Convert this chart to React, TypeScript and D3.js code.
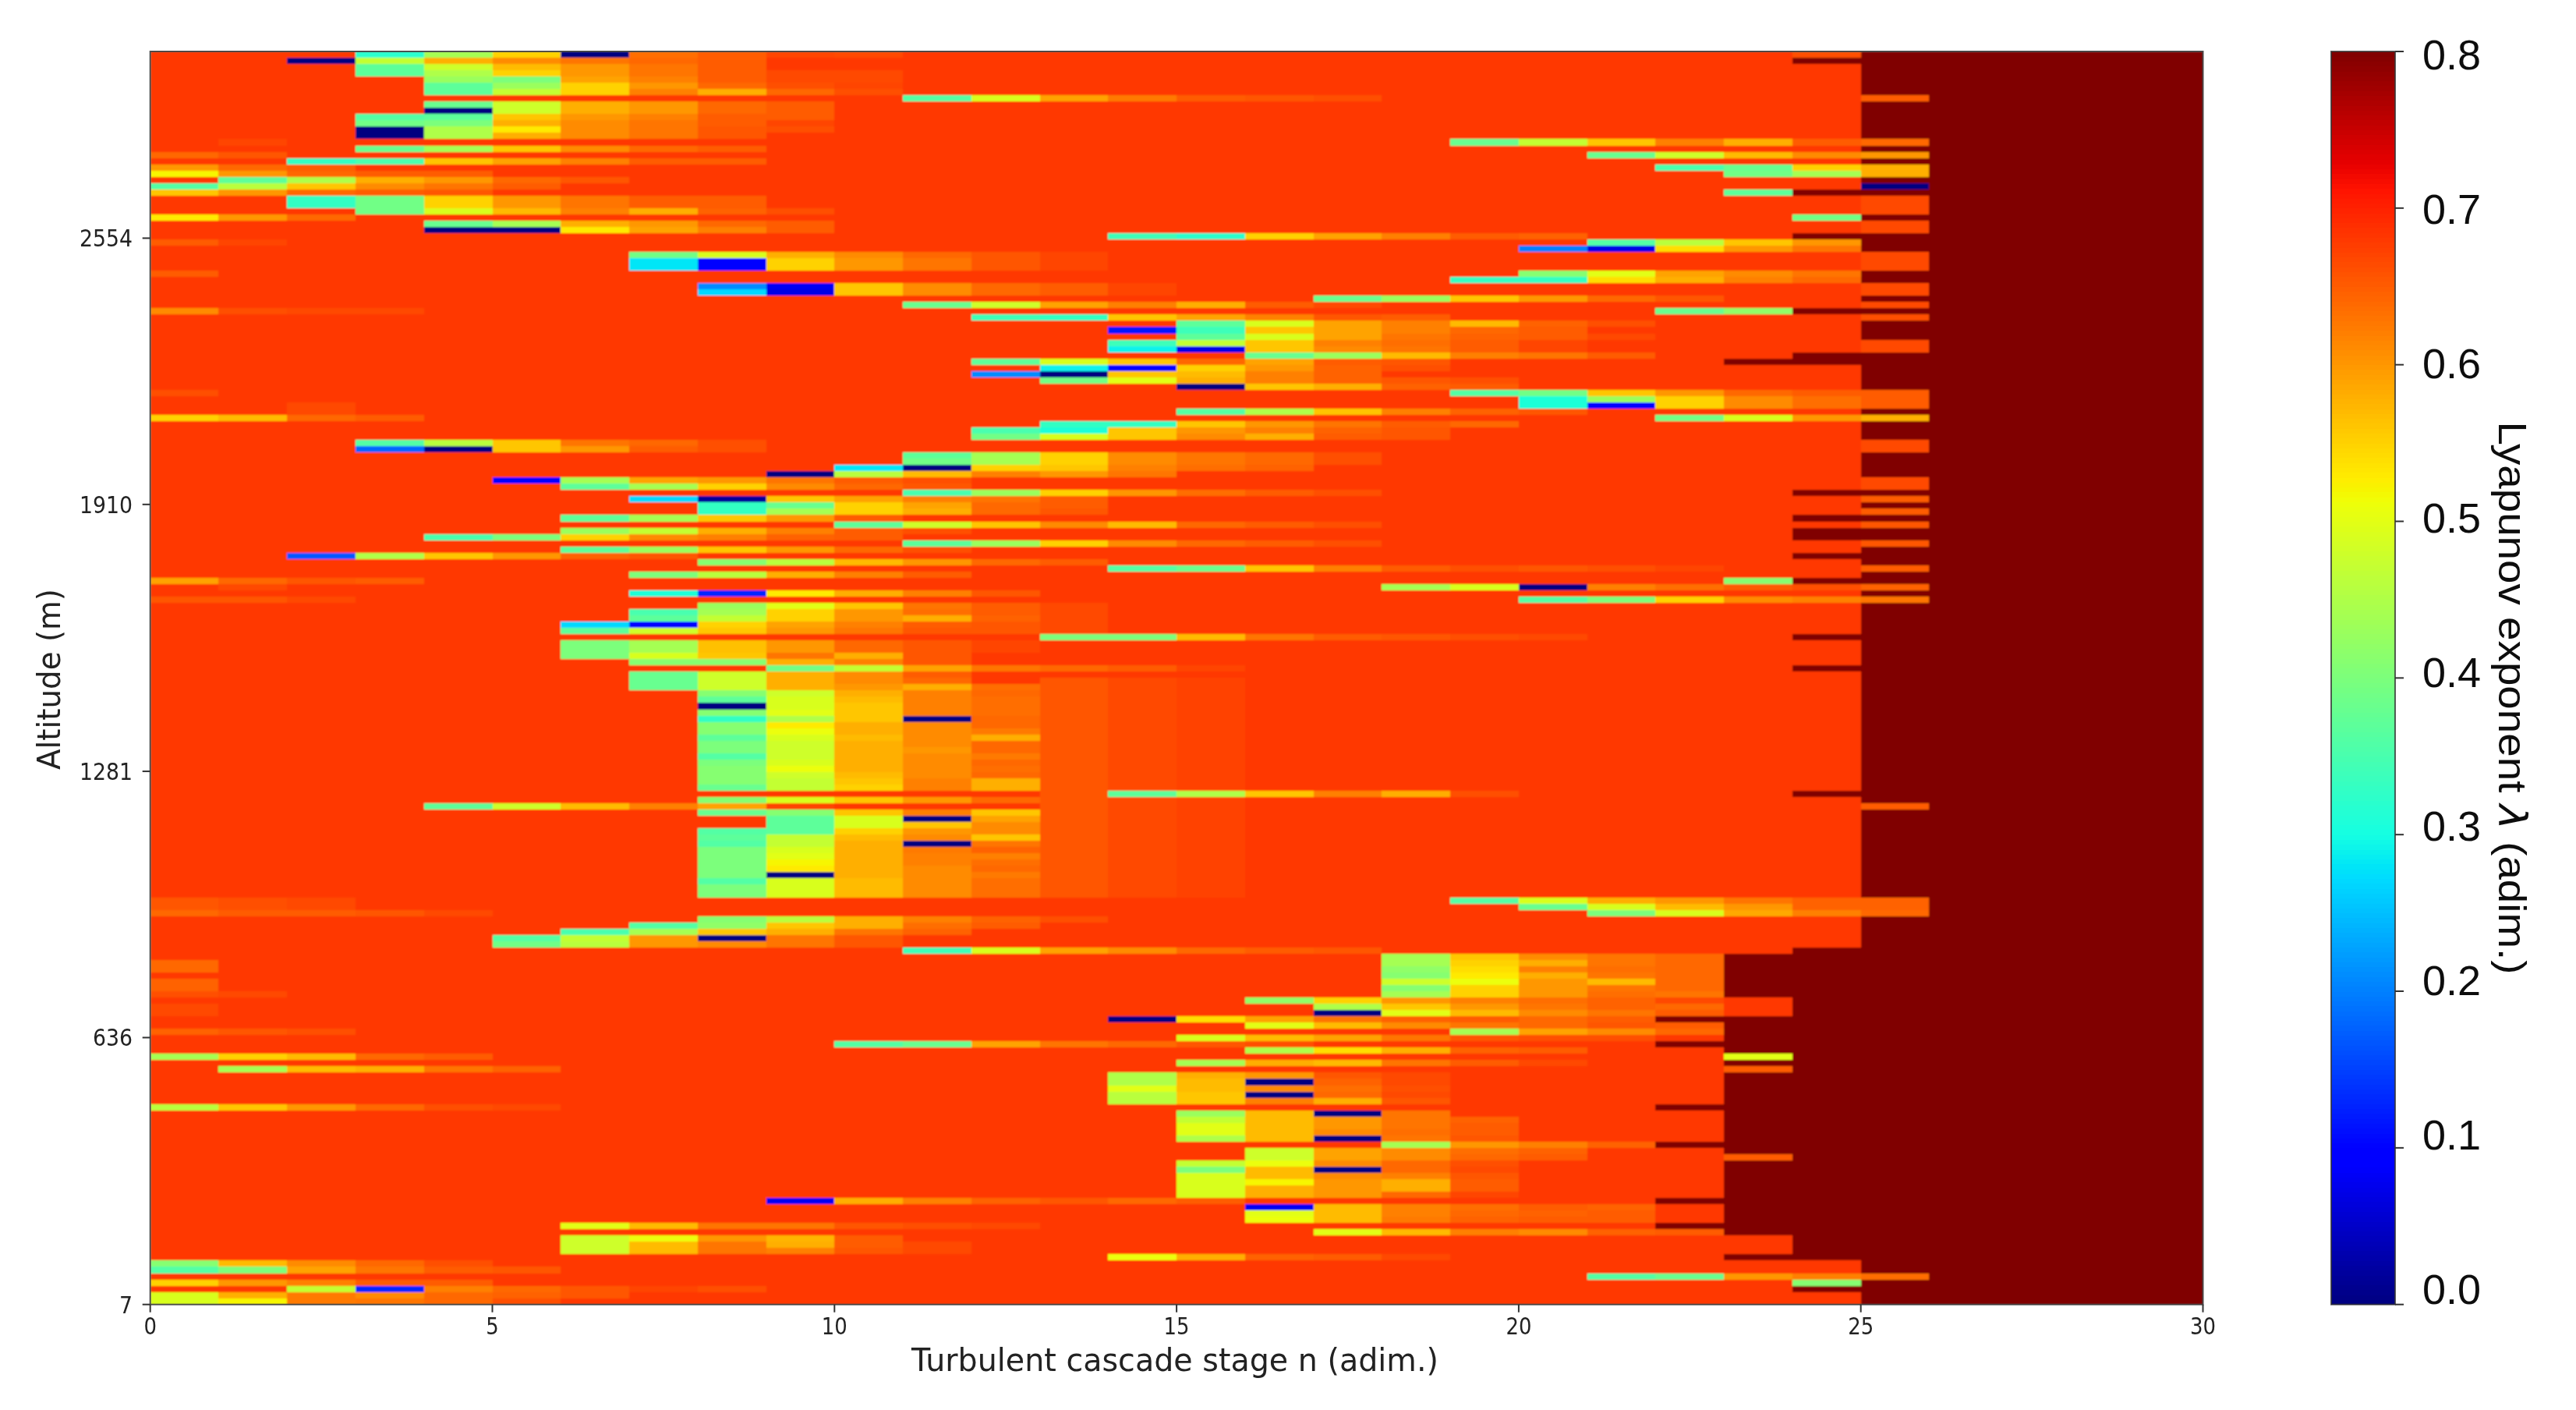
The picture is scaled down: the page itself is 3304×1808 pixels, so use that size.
import React from "react";
import * as d3 from "d3";

// Grid: 200 altitude rows (row 0 = top of the plot) by 30 cascade stages.
const ROW_COUNT = 200;
const STAGE_COUNT = 30;
const BACKGROUND_VALUE = 0.68;
const SATURATED_VALUE = 0.8;

const stageTicks = [0, 5, 10, 15, 20, 25, 30];
const altitudeTickLabels = ["7", "636", "1281", "1910", "2554"];
const altitudeTickRows = [0, 42.6, 85.1, 127.7, 170.2]; // rows above ground
const lambdaTicks = [0, 0.1, 0.2, 0.3, 0.4, 0.5, 0.6, 0.7, 0.8];

// [firstRow, lastRow, firstSaturatedStage]
const saturationRuns = [
  [0, 134, 25], [135, 137, 26], [138, 142, 25], [143, 143, 24], [144, 150, 23],
  [151, 153, 24], [154, 188, 23], [189, 191, 24], [192, 192, 23], [193, 194, 25],
  [195, 195, 26], [196, 199, 25],
];

// Each band: [row, rowSpan, firstStage, ...lambda values]
const fadeBands = [
  [100, 35, 13, 0.655, 0.665, 0.672],
  [88, 5, 12, 0.655, 0.665],
];

const upperLeftBands = [
  [0, 1, 3, 0.32, 0.44, 0.55, 0, 0.635, 0.65, 0.67, 0.665],
  [1, 1, 2, 0, 0.47, 0.58, 0.61, 0.63, 0.64, 0.65],
  [2, 1, 3, 0.37, 0.48, 0.57, 0.6, 0.63, 0.65],
  [3, 1, 3, 0.37, 0.45, 0.55, 0.6, 0.63, 0.65, 0.665, 0.665],
  [4, 1, 4, 0.43, 0.4, 0.59, 0.62, 0.65, 0.665, 0.665],
  [5, 1, 4, 0.37, 0.43, 0.55, 0.6, 0.64, 0.66, 0.67],
  [6, 1, 4, 0.37, 0.47, 0.55, 0.62, 0.58, 0.64, 0.66],
  [8, 1, 4, 0.38, 0.48, 0.58, 0.6, 0.64, 0.65],
  [9, 1, 4, 0, 0.48, 0.58, 0.6, 0.64, 0.65],
  [10, 1, 3, 0.36, 0.37, 0.56, 0.6, 0.62, 0.65, 0.65],
  [11, 1, 3, 0.39, 0.4, 0.58, 0.61, 0.63, 0.65, 0.67],
  [12, 1, 3, 0, 0.45, 0.53, 0.61, 0.63, 0.655, 0.66],
  [13, 1, 3, 0, 0.45, 0.58, 0.61, 0.63, 0.655],
  [14, 1, 1, 0.67],
  [15, 1, 3, 0.38, 0.44, 0.56, 0.61, 0.64, 0.65],
  [16, 1, 0, 0.64, 0.655],
  [17, 1, 2, 0.33, 0.35, 0.56, 0.59, 0.62, 0.65, 0.65],
  [18, 1, 0, 0.6, 0.64, 0.65],
  [19, 1, 0, 0.52, 0.6, 0.64, 0.65, 0.65],
  [20, 1, 1, 0.37, 0.45, 0.58, 0.6, 0.64, 0.655],
  [21, 1, 0, 0.36, 0.46, 0.56, 0.61, 0.63, 0.65],
  [22, 1, 0, 0.56, 0.6, 0.64, 0.65, 0.655],
  [23, 2, 2, 0.33, 0.39, 0.55, 0.6, 0.63, 0.65, 0.65],
  [25, 1, 3, 0.39, 0.49, 0.57, 0.62, 0.58, 0.645, 0.66],
  [26, 1, 0, 0.53, 0.6, 0.64],
  [27, 1, 4, 0.38, 0.44, 0.58, 0.6, 0.64, 0.65],
  [28, 1, 4, 0, 0, 0.53, 0.59, 0.62, 0.65],
  [30, 1, 0, 0.65, 0.67],
  [32, 1, 7, 0.39, 0.49, 0.58, 0.61, 0.64],
  [33, 2, 7, 0.28, 0.09, 0.55, 0.6, 0.63],
  [35, 1, 0, 0.65],
  [37, 1, 8, 0.21, 0.08, 0.56, 0.61],
  [38, 1, 8, 0.27, 0.07, 0.56, 0.61],
  [41, 1, 0, 0.61, 0.66, 0.665, 0.665],
  [54, 1, 0, 0.66],
  [56, 2, 2, 0.665],
  [58, 1, 0, 0.55, 0.57, 0.64, 0.65],
  [62, 1, 3, 0.36, 0.46, 0.56, 0.63, 0.64, 0.66],
  [63, 1, 3, 0.18, 0, 0.56, 0.6, 0.65, 0.66],
];

const upperRightBands = [
  [0, 1, 24, 0.66],
  [1, 1, 24, 0.8],
  [7, 1, 11, 0.36, 0.49, 0.59, 0.625, 0.65, 0.655, 0.66],
  [7, 1, 25, 0.65],
  [14, 1, 19, 0.38, 0.47, 0.56, 0.62, 0.58, 0.65, 0.64],
  [16, 1, 21, 0.38, 0.48, 0.57, 0.61, 0.6],
  [18, 1, 22, 0.35, 0.38, 0.55, 0.58],
  [19, 1, 23, 0.39, 0.44, 0.58],
  [21, 1, 25, 0],
  [22, 1, 23, 0.37, 0.8, 0.8],
  [23, 3, 25, 0.665],
  [26, 1, 24, 0.39, 0.8],
  [27, 2, 25, 0.665],
  [29, 1, 14, 0.34, 0.32, 0.55, 0.59, 0.62, 0.65, 0.645],
  [29, 1, 24, 0.8, 0.8],
  [30, 1, 21, 0.36, 0.46, 0.56, 0.6],
  [31, 1, 20, 0.2, 0.07, 0.54, 0.6, 0.63],
  [32, 3, 12, 0.655, 0.67],
  [32, 3, 25, 0.665],
  [35, 1, 20, 0.41, 0.5, 0.59, 0.61, 0.63],
  [36, 1, 19, 0.33, 0.33, 0.54, 0.58, 0.62, 0.64],
  [37, 2, 10, 0.56, 0.61, 0.64, 0.65, 0.67],
  [37, 2, 25, 0.665],
  [39, 1, 17, 0.38, 0.43, 0.56, 0.6, 0.64, 0.655],
  [40, 1, 11, 0.38, 0.48, 0.59, 0.62, 0.58, 0.65, 0.665],
  [40, 1, 25, 0.665],
  [41, 1, 22, 0.38, 0.42, 0.8, 0.8],
  [42, 1, 12, 0.34, 0.33, 0.56, 0.59, 0.62, 0.655, 0.65],
  [42, 1, 25, 0.66],
  [43, 1, 15, 0.37, 0.49, 0.59, 0.62, 0.57, 0.645, 0.66],
  [44, 1, 14, 0.12, 0.34, 0.56, 0.59, 0.62, 0.64, 0.65],
  [45, 1, 15, 0.37, 0.49, 0.59, 0.63, 0.645, 0.65, 0.665],
  [46, 1, 14, 0.34, 0.47, 0.56, 0.62, 0.635, 0.65, 0.67],
  [46, 2, 25, 0.665],
  [47, 1, 14, 0.29, 0.07, 0.56, 0.61, 0.63, 0.65, 0.67],
  [48, 1, 16, 0.38, 0.43, 0.57, 0.62, 0.63, 0.65],
  [48, 1, 24, 0.8],
  [49, 1, 12, 0.37, 0.49, 0.56, 0.64, 0.59, 0.65, 0.655],
  [49, 1, 23, 0.8, 0.8],
  [50, 1, 13, 0.29, 0.1, 0.55, 0.6, 0.645, 0.66],
  [51, 1, 12, 0.21, 0, 0.56, 0.57, 0.62, 0.645],
  [52, 1, 13, 0.39, 0.5, 0.58, 0.62, 0.645, 0.655, 0.66],
  [53, 1, 15, 0, 0.56, 0.58, 0.645, 0.65],
  [54, 1, 19, 0.36, 0.39, 0.56, 0.6, 0.64, 0.65, 0.65],
  [55, 1, 20, 0.31, 0.43, 0.55, 0.61, 0.635, 0.65],
  [56, 1, 20, 0.31, 0.1, 0.55, 0.61, 0.635, 0.65],
  [57, 1, 15, 0.36, 0.45, 0.56, 0.62, 0.645, 0.655],
  [58, 1, 22, 0.39, 0.49, 0.6, 0.58],
  [59, 1, 13, 0.33, 0.33, 0.56, 0.6, 0.63, 0.65, 0.64],
  [60, 1, 12, 0.35, 0.31, 0.56, 0.6, 0.62, 0.645, 0.655],
  [61, 1, 12, 0.39, 0.49, 0.56, 0.61, 0.58, 0.65, 0.655],
  [62, 2, 25, 0.665],
  [64, 1, 11, 0.37, 0.44, 0.55, 0.61, 0.63, 0.64, 0.66],
  [65, 1, 11, 0.39, 0.44, 0.55, 0.61, 0.63, 0.64, 0.66],
  [66, 1, 10, 0.28, 0, 0.55, 0.56, 0.62, 0.635, 0.645],
];

const middleBands = [
  [67, 1, 9, 0, 0.46, 0.57, 0.62, 0.64, 0.65],
  [68, 1, 5, 0.09, 0.44, 0.59, 0.6, 0.63, 0.65, 0.66],
  [69, 1, 6, 0.37, 0.44, 0.55, 0.61, 0.64, 0.655],
  [70, 1, 11, 0.35, 0.43, 0.55, 0.6, 0.635, 0.65, 0.66],
  [71, 1, 7, 0.27, 0.02, 0.56, 0.59, 0.62, 0.63, 0.65],
  [72, 1, 8, 0.33, 0.38, 0.55, 0.59, 0.64, 0.65],
  [73, 1, 8, 0.33, 0.44, 0.55, 0.58, 0.64, 0.655],
  [74, 1, 6, 0.37, 0.44, 0.56, 0.6, 0.65],
  [75, 1, 10, 0.37, 0.48, 0.56, 0.61, 0.57, 0.64, 0.65, 0.66],
  [76, 1, 6, 0.43, 0.47, 0.58, 0.62, 0.65, 0.66],
  [77, 1, 4, 0.35, 0.4, 0.55, 0.61, 0.62, 0.645, 0.65],
  [78, 1, 11, 0.37, 0.43, 0.55, 0.61, 0.64, 0.65, 0.66],
  [79, 1, 6, 0.37, 0.43, 0.56, 0.6, 0.64, 0.66],
  [80, 1, 2, 0.17, 0.45, 0.56, 0.6, 0.645, 0.655],
  [81, 1, 8, 0.41, 0.46, 0.57, 0.6, 0.64, 0.65],
  [83, 1, 7, 0.4, 0.46, 0.58, 0.62, 0.65],
  [84, 1, 0, 0.59, 0.64, 0.655, 0.65],
  [85, 1, 1, 0.665],
  [86, 1, 7, 0.31, 0.13, 0.53, 0.58, 0.62, 0.655],
  [87, 1, 0, 0.655, 0.655, 0.665],
  [88, 1, 8, 0.43, 0.5, 0.56, 0.63, 0.65],
  [89, 1, 7, 0.35, 0.44, 0.55, 0.6, 0.635, 0.65],
  [90, 1, 7, 0.37, 0.47, 0.55, 0.6, 0.58, 0.645],
  [91, 1, 6, 0.27, 0.1, 0.55, 0.59, 0.62, 0.65, 0.655],
  [92, 1, 6, 0.37, 0.48, 0.56, 0.6, 0.63, 0.655],
  [93, 1, 13, 0.4, 0.4, 0.57, 0.63, 0.65, 0.655, 0.66, 0.665],
  [94, 2, 6, 0.4, 0.44, 0.565, 0.6, 0.64, 0.655, 0.67],
  [96, 1, 6, 0.4, 0.49, 0.56, 0.63, 0.58, 0.655],
  [97, 1, 7, 0.41, 0.41, 0.58, 0.62, 0.655],
  [98, 1, 9, 0.39, 0.47, 0.59, 0.63, 0.64, 0.65, 0.67],
  [99, 1, 7, 0.38, 0.48, 0.58, 0.61, 0.65],
  [100, 1, 7, 0.38, 0.48, 0.58, 0.61, 0.64],
  [101, 1, 7, 0.38, 0.48, 0.58, 0.6, 0.58, 0.635],
  [102, 1, 8, 0.41, 0.48, 0.58, 0.62, 0.64],
  [103, 1, 8, 0.37, 0.49, 0.57, 0.62, 0.635],
  [104, 1, 8, 0, 0.49, 0.56, 0.62, 0.635],
  [105, 1, 8, 0.41, 0.5, 0.56, 0.62, 0.635],
  [106, 1, 8, 0.33, 0.45, 0.56, 0, 0.64],
  [107, 1, 8, 0.41, 0.53, 0.58, 0.61, 0.64],
  [108, 1, 8, 0.41, 0.51, 0.58, 0.61, 0.625],
  [109, 1, 8, 0.37, 0.49, 0.57, 0.61, 0.58],
  [110, 1, 8, 0.4, 0.48, 0.58, 0.61, 0.64],
  [111, 1, 8, 0.4, 0.48, 0.58, 0.6, 0.64],
  [112, 1, 8, 0.36, 0.48, 0.58, 0.61, 0.625],
  [113, 1, 8, 0.4, 0.49, 0.58, 0.61, 0.64],
  [114, 1, 8, 0.41, 0.51, 0.58, 0.61, 0.635],
  [115, 1, 8, 0.41, 0.48, 0.57, 0.61, 0.64],
  [116, 1, 8, 0.41, 0.47, 0.56, 0.62, 0.58],
  [117, 1, 8, 0.38, 0.47, 0.55, 0.62, 0.58],
  [118, 1, 14, 0.37, 0.45, 0.56, 0.62, 0.58, 0.66],
  [118, 1, 24, 0.8],
  [119, 1, 8, 0.41, 0.49, 0.56, 0.6, 0.64],
  [120, 1, 4, 0.37, 0.48, 0.57, 0.62, 0.59, 0.67],
  [121, 1, 8, 0.38, 0.41, 0.56, 0.62, 0.56],
  [122, 1, 9, 0.37, 0.49, 0, 0.59],
  [123, 1, 9, 0.37, 0.49, 0.56, 0.61],
  [124, 1, 8, 0.36, 0.37, 0.55, 0.6, 0.61],
  [125, 1, 8, 0.37, 0.47, 0.57, 0.61, 0.56],
  [126, 1, 8, 0.36, 0.47, 0.58, 0, 0.63],
  [127, 1, 8, 0.4, 0.49, 0.58, 0.625, 0.645],
  [128, 1, 8, 0.4, 0.5, 0.58, 0.62, 0.62],
  [129, 1, 8, 0.4, 0.52, 0.58, 0.62, 0.635],
  [130, 1, 8, 0.4, 0.53, 0.58, 0.61, 0.64],
  [131, 1, 8, 0.4, 0, 0.58, 0.61, 0.625],
  [132, 1, 8, 0.36, 0.49, 0.57, 0.61, 0.635],
  [133, 2, 8, 0.4, 0.49, 0.57, 0.61, 0.635],
];

const rightEdgeBands = [
  [67, 1, 13, 0.6, 0.63],
  [68, 2, 25, 0.665],
  [70, 1, 24, 0.8],
  [71, 1, 25, 0.65],
  [73, 1, 25, 0.65],
  [74, 1, 24, 0.8],
  [75, 1, 25, 0.655],
  [76, 2, 24, 0.8],
  [78, 1, 25, 0.655],
  [80, 1, 24, 0.8],
  [82, 1, 14, 0.36, 0.38, 0.56, 0.62, 0.65, 0.66, 0.655, 0.66, 0.67],
  [82, 1, 25, 0.65],
  [84, 1, 23, 0.41, 0.8],
  [85, 1, 18, 0.44, 0.49, 0, 0.62, 0.635, 0.65, 0.66, 0.645],
  [87, 1, 20, 0.36, 0.4, 0.55, 0.61, 0.62, 0.63],
  [93, 1, 24, 0.8],
  [98, 1, 24, 0.8],
  [120, 1, 25, 0.65],
];

const lowerLeftBands = [
  [135, 2, 0, 0.655, 0.66, 0.665],
  [137, 1, 0, 0.64, 0.65, 0.65, 0.655, 0.665],
  [138, 1, 8, 0.41, 0.46, 0.58, 0.62, 0.645, 0.66],
  [139, 1, 7, 0.36, 0.42, 0.56, 0.58, 0.635, 0.65],
  [140, 1, 6, 0.35, 0.44, 0.56, 0.58, 0.63, 0.645],
  [141, 1, 5, 0.36, 0.47, 0.6, 0, 0.63, 0.655],
  [142, 1, 5, 0.39, 0.46, 0.6, 0.61, 0.63, 0.655],
  [143, 1, 11, 0.34, 0.49, 0.59, 0.61, 0.64, 0.65, 0.655],
  [145, 2, 0, 0.64],
  [148, 2, 0, 0.645],
  [150, 1, 0, 0.66, 0.665],
  [152, 2, 0, 0.665],
  [156, 1, 0, 0.645, 0.655, 0.66],
  [158, 1, 10, 0.36, 0.38, 0.59, 0.63, 0.64, 0.655, 0.66],
  [160, 1, 0, 0.44, 0.55, 0.57, 0.64, 0.65],
  [162, 1, 1, 0.44, 0.57, 0.58, 0.63, 0.645],
  [168, 1, 0, 0.46, 0.56, 0.6, 0.64, 0.66, 0.665],
  [183, 1, 9, 0.08, 0.58, 0.62, 0.645, 0.655, 0.64, 0.65],
  [187, 1, 6, 0.5, 0.57, 0.63, 0.63, 0.655, 0.66, 0.665],
  [189, 1, 6, 0.48, 0.51, 0.6, 0.575, 0.65],
  [190, 1, 6, 0.48, 0.57, 0.63, 0.58, 0.65, 0.665],
  [191, 1, 6, 0.48, 0.57, 0.63, 0.62, 0.655, 0.665],
  [193, 1, 0, 0.41, 0.57, 0.61, 0.64, 0.66],
  [194, 1, 0, 0.36, 0.4, 0.59, 0.63, 0.65, 0.655],
  [196, 1, 0, 0.55, 0.6, 0.62, 0.65, 0.65],
  [197, 1, 2, 0.47, 0.13, 0.62, 0.64, 0.655, 0.67, 0.66],
  [198, 1, 0, 0.49, 0.58, 0.625, 0.61, 0.64, 0.645, 0.655],
  [199, 1, 0, 0.49, 0.52, 0.625, 0.63, 0.64, 0.66],
];

const lowerRightBands = [
  [135, 1, 19, 0.36, 0.49, 0.58, 0.6, 0.63, 0.645, 0.645],
  [136, 1, 20, 0.38, 0.49, 0.57, 0.6, 0.645, 0.645],
  [137, 1, 21, 0.4, 0.49, 0.585, 0.62, 0.64],
  [144, 1, 18, 0.44, 0.56, 0.61, 0.63, 0.64],
  [145, 1, 18, 0.44, 0.55, 0.58, 0.63, 0.64],
  [146, 1, 18, 0.42, 0.54, 0.62, 0.635, 0.64],
  [147, 1, 18, 0.41, 0.53, 0.58, 0.63, 0.64],
  [148, 1, 18, 0.48, 0.51, 0.6, 0.57, 0.64],
  [149, 1, 18, 0.41, 0.55, 0.6, 0.63, 0.64],
  [150, 1, 18, 0.44, 0.55, 0.6, 0.635, 0.63],
  [151, 1, 16, 0.42, 0.55, 0.6, 0.62, 0.635, 0.645, 0.665],
  [152, 1, 17, 0.45, 0.56, 0.6, 0.63, 0.645, 0.64],
  [153, 1, 17, 0, 0.5, 0.57, 0.61, 0.63, 0.65],
  [154, 1, 14, 0, 0.54, 0.59, 0.63, 0.645, 0.65, 0.64, 0.65, 0.8],
  [155, 1, 16, 0.5, 0.57, 0.61, 0.63, 0.64, 0.655, 0.65],
  [156, 1, 19, 0.44, 0.59, 0.61, 0.64],
  [157, 1, 15, 0.49, 0.57, 0.59, 0.63, 0.655, 0.66, 0.66],
  [158, 1, 22, 0.8],
  [159, 1, 16, 0.45, 0.54, 0.58, 0.645, 0.65],
  [160, 1, 23, 0.5],
  [161, 1, 15, 0.44, 0.58, 0.57, 0.63, 0.65, 0.665],
  [162, 1, 23, 0.65],
  [163, 1, 14, 0.45, 0.58, 0.6, 0.655, 0.665],
  [164, 1, 14, 0.45, 0.57, 0, 0.645, 0.665],
  [165, 1, 14, 0.5, 0.57, 0.61, 0.635, 0.66],
  [166, 1, 14, 0.46, 0.56, 0, 0.64, 0.665],
  [167, 1, 14, 0.46, 0.56, 0.62, 0.58, 0.655],
  [168, 1, 22, 0.8],
  [169, 1, 15, 0.43, 0.57, 0, 0.63],
  [170, 1, 15, 0.47, 0.57, 0.6, 0.63, 0.645],
  [171, 1, 15, 0.5, 0.57, 0.6, 0.63, 0.65],
  [172, 1, 15, 0.5, 0.57, 0.61, 0.635, 0.65],
  [173, 1, 15, 0.45, 0.57, 0, 0.63, 0.655],
  [174, 1, 18, 0.44, 0.6, 0.62, 0.645],
  [174, 1, 22, 0.8],
  [175, 1, 16, 0.48, 0.59, 0.61, 0.635, 0.645],
  [176, 1, 16, 0.48, 0.59, 0.61, 0.64, 0.65],
  [176, 1, 23, 0.65],
  [177, 1, 15, 0.47, 0.51, 0.61, 0.64, 0.66],
  [178, 1, 15, 0.4, 0.57, 0, 0.64, 0.665],
  [179, 1, 15, 0.49, 0.57, 0.61, 0.62, 0.655],
  [180, 1, 15, 0.49, 0.52, 0.6, 0.58, 0.65],
  [181, 1, 15, 0.49, 0.58, 0.6, 0.58, 0.65],
  [182, 1, 15, 0.49, 0.58, 0.6, 0.64, 0.67],
  [183, 1, 22, 0.8],
  [184, 1, 16, 0.08, 0.57, 0.62, 0.635, 0.65, 0.645],
  [185, 1, 16, 0.5, 0.57, 0.62, 0.64, 0.645, 0.65],
  [186, 1, 16, 0.51, 0.57, 0.625, 0.645, 0.65, 0.65],
  [187, 1, 22, 0.8],
  [188, 1, 17, 0.5, 0.57, 0.62, 0.61, 0.645, 0.65],
  [192, 1, 14, 0.51, 0.58, 0.645, 0.65, 0.665],
  [195, 1, 21, 0.36, 0.38, 0.6, 0.62, 0.635],
  [196, 1, 24, 0.41],
  [197, 1, 24, 0.8],
];

const bandGroups = [fadeBands, upperLeftBands, upperRightBands, middleBands, rightEdgeBands, lowerLeftBands, lowerRightBands];

const grid: number[][] = d3.range(ROW_COUNT).map((r) =>
  d3.range(STAGE_COUNT).map((c) => {
    const run = saturationRuns.find((s) => r >= s[0] && r <= s[1]);
    return run && c >= run[2] ? SATURATED_VALUE : BACKGROUND_VALUE;
  })
);
bandGroups.forEach((group) =>
  group.forEach(([row, span, stage, ...values]) => {
    d3.range(span).forEach((k) =>
      values.forEach((v, i) => {
        if (row + k < ROW_COUNT && stage + i < STAGE_COUNT) grid[row + k][stage + i] = v;
      })
    );
  })
);

// matplotlib "jet"
const jetR = d3.scaleLinear<number>().domain([0, 0.35, 0.66, 0.89, 1]).range([0, 0, 1, 1, 0.5]).clamp(true);
const jetG = d3.scaleLinear<number>().domain([0, 0.125, 0.375, 0.64, 0.91, 1]).range([0, 0, 1, 1, 0, 0]).clamp(true);
const jetB = d3.scaleLinear<number>().domain([0, 0.11, 0.34, 0.65, 1]).range([0.5, 1, 1, 0, 0]).clamp(true);
const norm = d3.scaleLinear().domain([0, 0.8]).range([0, 1]);
const lambdaColor = (v: number) => {
  const t = norm(v);
  return `rgb(${Math.round(jetR(t) * 255)},${Math.round(jetG(t) * 255)},${Math.round(jetB(t) * 255)})`;
};

const W = 3304;
const H = 1808;
const plot = { left: 192.7, right: 2825.5, top: 66, bottom: 1672.7 };
const bar = { left: 2990, right: 3072, top: 66, bottom: 1672.7 };

const x = d3.scaleLinear().domain([0, STAGE_COUNT]).range([plot.left, plot.right]);
const yAbove = d3.scaleLinear().domain([0, ROW_COUNT]).range([plot.bottom, plot.top]);
const barY = d3.scaleLinear().domain([0, 0.8]).range([bar.bottom, bar.top]);
const barLabelBaseline = d3.scaleLinear().domain([0, 0.8]).range([1672, 89]);

const AXIS = "#333";
const DEJAVU = "'DejaVu Sans', sans-serif";
const SANS = "'Liberation Sans', Arial, sans-serif";
const barSteps = d3.range(256);

export default function App() {
  return (
    <svg width={W} height={H} viewBox={`0 0 ${W} ${H}`} style={{ position: "absolute", left: 0, top: 0, background: "#fff" }}>
      <defs>
        <filter id="soft" x="-1%" y="-1%" width="102%" height="102%">
          <feGaussianBlur stdDeviation="0.9" />
        </filter>
        <filter id="softText" x="-5%" y="-5%" width="110%" height="110%">
          <feGaussianBlur stdDeviation="0.5" />
        </filter>
        <clipPath id="plotClip">
          <rect x={plot.left} y={plot.top} width={plot.right - plot.left} height={plot.bottom - plot.top} />
        </clipPath>
      </defs>

      <g clipPath="url(#plotClip)">
        <g filter="url(#soft)" shapeRendering="crispEdges">
          {grid.map((row, r) =>
            row.map((v, c) => (
              <rect
                key={`${r}-${c}`}
                x={x(c)}
                y={yAbove(ROW_COUNT - r)}
                width={x(c + 1) - x(c) + 0.5}
                height={yAbove(ROW_COUNT - r - 1) - yAbove(ROW_COUNT - r) + 0.5}
                fill={lambdaColor(v)}
              />
            ))
          )}
        </g>
      </g>
      <rect x={plot.left} y={plot.top} width={plot.right - plot.left} height={plot.bottom - plot.top} fill="none" stroke={AXIS} strokeWidth={2} opacity={0.85} />

      <g filter="url(#softText)" fill="#222" fontFamily={DEJAVU}>
        {stageTicks.map((t) => (
          <g key={t}>
            <line x1={x(t)} x2={x(t)} y1={plot.bottom} y2={plot.bottom + 10} stroke={AXIS} strokeWidth={2} />
            <text x={x(t)} y={1711} fontSize={30} textAnchor="middle" textLength={String(t).length * 16.5} lengthAdjust="spacingAndGlyphs">
              {t}
            </text>
          </g>
        ))}
        {altitudeTickRows.map((t, i) => (
          <g key={t}>
            <line x1={plot.left - 10} x2={plot.left} y1={yAbove(t)} y2={yAbove(t)} stroke={AXIS} strokeWidth={2} />
            <text x={170} y={yAbove(t) + 11} fontSize={30} textAnchor="end" textLength={altitudeTickLabels[i].length * 17} lengthAdjust="spacingAndGlyphs">
              {altitudeTickLabels[i]}
            </text>
          </g>
        ))}
        <text x={1507} y={1758} fontSize={41} textAnchor="middle" textLength={676} lengthAdjust="spacingAndGlyphs">
          Turbulent cascade stage n (adim.)
        </text>
        <text transform={`translate(77,871) rotate(-90)`} fontSize={41} textAnchor="middle" textLength={232} lengthAdjust="spacingAndGlyphs">
          Altitude (m)
        </text>
      </g>

      <g shapeRendering="crispEdges">
        {barSteps.map((i) => {
          const v0 = (i / 256) * 0.8;
          const v1 = ((i + 1) / 256) * 0.8;
          return <rect key={i} x={bar.left} width={bar.right - bar.left} y={barY(v1)} height={barY(v0) - barY(v1) + 0.5} fill={lambdaColor((v0 + v1) / 2)} />;
        })}
      </g>
      <rect x={bar.left} y={bar.top} width={bar.right - bar.left} height={bar.bottom - bar.top} fill="none" stroke={AXIS} strokeWidth={2} opacity={0.8} />

      <g filter="url(#softText)" fill="#111" fontFamily={SANS}>
        {lambdaTicks.map((t) => (
          <g key={t}>
            <line x1={bar.right} x2={bar.right + 11} y1={barY(t)} y2={barY(t)} stroke={AXIS} strokeWidth={2} />
            <text x={3107} y={barLabelBaseline(t)} fontSize={54}>
              {t.toFixed(1)}
            </text>
          </g>
        ))}
        <text transform={`translate(3205,895) rotate(90)`} fontSize={50} textAnchor="middle" textLength={709} lengthAdjust="spacingAndGlyphs">
          Lyapunov exponent <tspan fontFamily={DEJAVU} fontStyle="italic">λ</tspan> (adim.)
        </text>
      </g>
    </svg>
  );
}
